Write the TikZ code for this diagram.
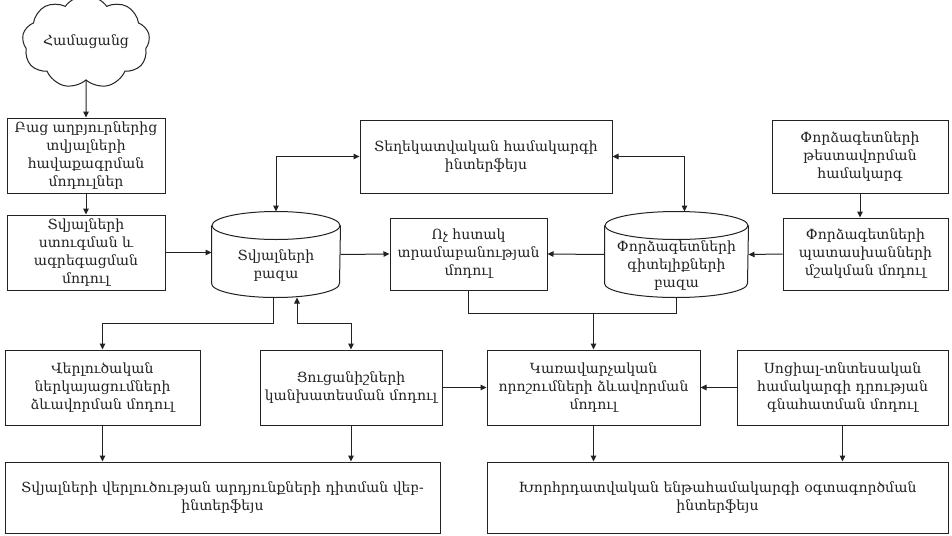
\documentclass[tikz,border=0pt]{standalone}
\usepackage{fontspec}
\setmainfont{DejaVu Serif}
\usetikzlibrary{shapes.symbols,arrows.meta,calc}
\definecolor{ln}{HTML}{222222}
\newcommand\drawcyl[3]{%
  \draw[ln] ($(#1.north)+(0,#3)$) ellipse [x radius=#2pt, y radius=#3pt];
  \draw[ln] ($(#1.north west)+(0,#3)$) -- ($(#1.south west)+(0,-#3)$)
     arc[start angle=180,end angle=360,x radius=#2pt,y radius=#3pt]
     -- ($(#1.north east)+(0,#3)$);
}
\begin{document}
\begin{tikzpicture}[x=1pt,y=-1pt,
  every node/.style={font=\fontsize{14}{18}\selectfont, text=ln},
  box/.style={draw=ln, line width=1pt, rectangle, align=center, inner sep=2pt},
  cylbox/.style={rectangle, inner sep=0pt},
  cyltext/.style={align=center, inner sep=0pt},
  conn/.style={draw=ln, line width=1pt},
  arr/.style={conn, -{Triangle[length=6pt,width=5.5pt]}},
  darr/.style={conn, {Triangle[length=6pt,width=5.5pt]}-{Triangle[length=6pt,width=5.5pt]}},
  line width=1pt]
\fill[white] (0,0) rectangle (952,535);
\useasboundingbox (0,0) rectangle (952,535);

\node[cloud, draw=ln, line width=1pt, cloud puffs=9, cloud puff arc=110, aspect=1.6,
      minimum width=118pt, minimum height=76pt, inner sep=0pt] (net) at (86,42) {Համացանց};

\node[box, minimum width=158pt, minimum height=75pt] (src) at (86,155.5)
  {Բաց աղբյուրներից\\տվյալների\\հավաքագրման\\մոդուլներ};
\node[box, minimum width=158pt, minimum height=75pt] (chk) at (86,252.5)
  {Տվյալների\\ստուգման և\\ագրեգացման\\մոդուլ};

\node[cylbox, minimum width=128pt, minimum height=85pt] (db) at (276,254.5) {};
\drawcyl{db}{64}{14}
\node[cyltext] (dbt) at ($(db.center)+(0,11)$) {Տվյալների\\բազա};

\node[box, minimum width=252pt, minimum height=73pt] (info) at (486,156.5)
  {Տեղեկատվական համակարգի\\ինտերֆեյս};
\node[box, minimum width=157pt, minimum height=72pt] (fuzzy) at (468.5,254)
  {Ոչ հստակ\\տրամաբանության\\մոդուլ};

\node[cylbox, minimum width=143pt, minimum height=85pt] (kb) at (676.5,254.5) {};
\drawcyl{kb}{71.5}{14}
\node[cyltext] (kbt) at ($(kb.center)+(0,11)$) {Փորձագետների\\գիտելիքների\\բազա};

\node[box, minimum width=176pt, minimum height=73pt] (test) at (860,156.5)
  {Փորձագետների\\թեստավորման\\համակարգ};
\node[box, minimum width=165pt, minimum height=72pt] (resp) at (865.5,254)
  {Փորձագետների\\պատասխանների\\մշակման մոդուլ};

\node[box, minimum width=195pt, minimum height=75pt] (anal) at (102.5,387.5)
  {Վերլուծական\\ներկայացումների\\ձևավորման մոդուլ};
\node[box, minimum width=182pt, minimum height=75pt] (pred) at (351,387.5)
  {Ցուցանիշների\\կանխատեսման մոդուլ};
\node[box, minimum width=213pt, minimum height=75pt] (mgmt) at (593.5,387.5)
  {Կառավարչական\\որոշումների ձևավորման\\մոդուլ};
\node[box, minimum width=211pt, minimum height=75pt] (soc) at (842.5,387.5)
  {Սոցիալ-տնտեսական\\համակարգի դրության\\գնահատման մոդուլ};

\node[box, minimum width=435pt, minimum height=71pt] (web) at (222.5,497.5)
  {Տվյալների վերլուծության արդյունքների դիտման վեբ-\\ինտերֆեյս};
\node[box, minimum width=461pt, minimum height=71pt] (cons) at (717.5,497.5)
  {Խորհրդատվական ենթահամակարգի օգտագործման\\ինտերֆեյս};

% connectors
\draw[arr] (net.south) -- (src.north);
\draw[arr] (src.south) -- (chk.north);
\draw[arr] (chk.east) -- (chk.east -| db.west);
\draw[darr] (db.north) |- (info.west);
\coordinate (kbtop) at ($(kb.north)+(8,0)$);
\draw[darr] (info.east) -| (kbtop);
\draw[arr] (db.east) -- (fuzzy.west);
\draw[arr] (kb.west) -- (fuzzy.east);
\draw[arr] (resp.west) -- (kb.east);
\draw[arr] (test.south) -- (test.south |- resp.north);

\coordinate (j) at (593.5,313);
\draw[conn] (fuzzy.south) |- (j);
\draw[conn] (kb.south) |- (j);
\draw[arr] (j) -- (mgmt.north);

\coordinate (dbl) at ($(db.south)+(-3,0)$);
\draw[arr] (dbl) -- ++(0,26) -| (anal.north);
\coordinate (dbr) at ($(db.south)+(21,0)$);
\draw[darr] (dbr) -- ++(0,26) -| (pred.north);

\draw[arr] (pred.east) -- (mgmt.west);
\draw[arr] (soc.west) -- (mgmt.east);
\draw[arr] (anal.south) -- (anal.south |- web.north);
\draw[arr] (pred.south) -- (pred.south |- web.north);
\draw[arr] (mgmt.south) -- (mgmt.south |- cons.north);
\draw[arr] (soc.south) -- (soc.south |- cons.north);
\end{tikzpicture}
\end{document}
